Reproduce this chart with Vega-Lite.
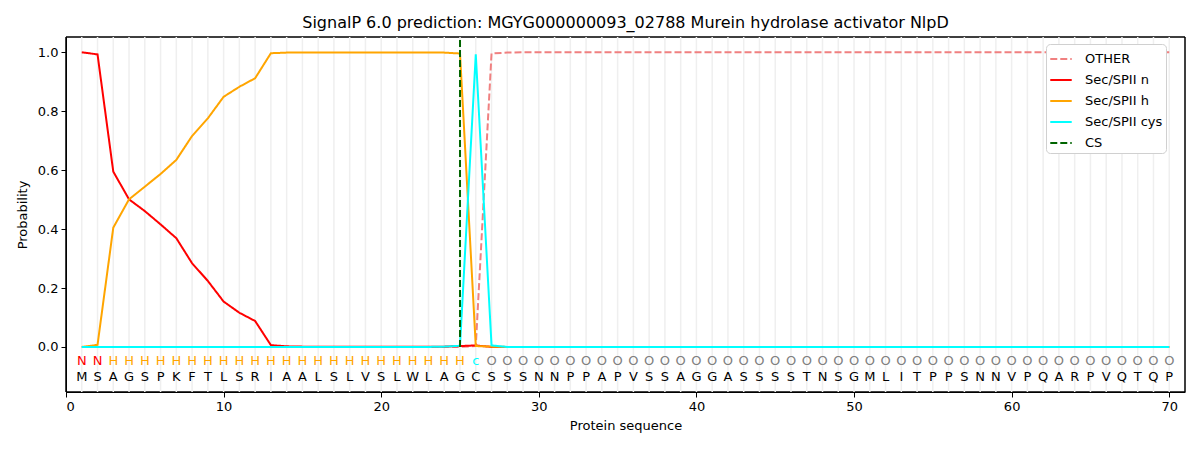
{
  "$schema": "https://vega.github.io/schema/vega-lite/v6.json",
  "width": 1119,
  "height": 355,
  "autosize": "none",
  "padding": {"left": 66, "top": 37, "right": 15, "bottom": 58},
  "background": "white",
  "title": {
    "text": "SignalP 6.0 prediction: MGYG000000093_02788 Murein hydrolase activator NlpD",
    "font": "DejaVu Sans",
    "fontSize": 16,
    "fontWeight": "normal",
    "color": "black",
    "offset": 5
  },
  "config": {
    "view": {"stroke": "#000000", "strokeWidth": 1.5, "strokeDash": [1, 0], "strokeOpacity": 1},
    "font": "DejaVu Sans",
    "axis": {
      "labelFont": "DejaVu Sans",
      "labelFontSize": 13,
      "labelColor": "black",
      "titleFont": "DejaVu Sans",
      "titleFontSize": 13,
      "titleFontWeight": "normal",
      "titleColor": "black",
      "tickColor": "black",
      "domainColor": "black",
      "tickSize": 5,
      "grid": false
    },
    "legend": {
      "labelFont": "DejaVu Sans",
      "labelFontSize": 13,
      "labelColor": "black"
    }
  },
  "datasets": {
    "residues": [
      {"pos": 1, "aa": "M", "lab": "N", "other": 0.0, "n": 1.0, "h": 0.0, "cys": 0.0},
      {"pos": 2, "aa": "S", "lab": "N", "other": 0.0, "n": 0.993, "h": 0.007, "cys": 0.0},
      {"pos": 3, "aa": "A", "lab": "H", "other": 0.0, "n": 0.595, "h": 0.405, "cys": 0.0},
      {"pos": 4, "aa": "G", "lab": "H", "other": 0.0, "n": 0.501, "h": 0.501, "cys": 0.0},
      {"pos": 5, "aa": "S", "lab": "H", "other": 0.0, "n": 0.461, "h": 0.544, "cys": 0.0},
      {"pos": 6, "aa": "P", "lab": "H", "other": 0.0, "n": 0.416, "h": 0.587, "cys": 0.0},
      {"pos": 7, "aa": "K", "lab": "H", "other": 0.0, "n": 0.369, "h": 0.635, "cys": 0.0},
      {"pos": 8, "aa": "F", "lab": "H", "other": 0.0, "n": 0.284, "h": 0.716, "cys": 0.0},
      {"pos": 9, "aa": "T", "lab": "H", "other": 0.0, "n": 0.224, "h": 0.776, "cys": 0.0},
      {"pos": 10, "aa": "L", "lab": "H", "other": 0.0, "n": 0.154, "h": 0.849, "cys": 0.0},
      {"pos": 11, "aa": "S", "lab": "H", "other": 0.0, "n": 0.116, "h": 0.883, "cys": 0.0},
      {"pos": 12, "aa": "R", "lab": "H", "other": 0.0, "n": 0.088, "h": 0.912, "cys": 0.0},
      {"pos": 13, "aa": "I", "lab": "H", "other": 0.0, "n": 0.006, "h": 0.997, "cys": 0.0},
      {"pos": 14, "aa": "A", "lab": "H", "other": 0.0, "n": 0.002, "h": 0.999, "cys": 0.0},
      {"pos": 15, "aa": "A", "lab": "H", "other": 0.0, "n": 0.001, "h": 0.999, "cys": 0.0},
      {"pos": 16, "aa": "L", "lab": "H", "other": 0.0, "n": 0.001, "h": 0.999, "cys": 0.0},
      {"pos": 17, "aa": "S", "lab": "H", "other": 0.0, "n": 0.001, "h": 0.999, "cys": 0.0},
      {"pos": 18, "aa": "L", "lab": "H", "other": 0.0, "n": 0.001, "h": 0.999, "cys": 0.0},
      {"pos": 19, "aa": "V", "lab": "H", "other": 0.0, "n": 0.001, "h": 0.999, "cys": 0.0},
      {"pos": 20, "aa": "S", "lab": "H", "other": 0.0, "n": 0.001, "h": 0.999, "cys": 0.0},
      {"pos": 21, "aa": "L", "lab": "H", "other": 0.0, "n": 0.001, "h": 0.999, "cys": 0.0},
      {"pos": 22, "aa": "W", "lab": "H", "other": 0.0, "n": 0.001, "h": 0.999, "cys": 0.0},
      {"pos": 23, "aa": "L", "lab": "H", "other": 0.0, "n": 0.001, "h": 0.999, "cys": 0.0},
      {"pos": 24, "aa": "A", "lab": "H", "other": 0.0, "n": 0.001, "h": 0.999, "cys": 0.001},
      {"pos": 25, "aa": "G", "lab": "H", "other": 0.0, "n": 0.003, "h": 0.996, "cys": 0.004},
      {"pos": 26, "aa": "C", "lab": "c", "other": 0.003, "n": 0.005, "h": 0.003, "cys": 0.993},
      {"pos": 27, "aa": "S", "lab": "O", "other": 0.996, "n": 0.0, "h": 0.001, "cys": 0.005},
      {"pos": 28, "aa": "S", "lab": "O", "other": 0.999, "n": 0.0, "h": 0.0, "cys": 0.0},
      {"pos": 29, "aa": "S", "lab": "O", "other": 1.0, "n": 0.0, "h": 0.0, "cys": 0.0},
      {"pos": 30, "aa": "N", "lab": "O", "other": 1.0, "n": 0.0, "h": 0.0, "cys": 0.0},
      {"pos": 31, "aa": "N", "lab": "O", "other": 1.0, "n": 0.0, "h": 0.0, "cys": 0.0},
      {"pos": 32, "aa": "P", "lab": "O", "other": 1.0, "n": 0.0, "h": 0.0, "cys": 0.0},
      {"pos": 33, "aa": "P", "lab": "O", "other": 1.0, "n": 0.0, "h": 0.0, "cys": 0.0},
      {"pos": 34, "aa": "A", "lab": "O", "other": 1.0, "n": 0.0, "h": 0.0, "cys": 0.0},
      {"pos": 35, "aa": "P", "lab": "O", "other": 1.0, "n": 0.0, "h": 0.0, "cys": 0.0},
      {"pos": 36, "aa": "V", "lab": "O", "other": 1.0, "n": 0.0, "h": 0.0, "cys": 0.0},
      {"pos": 37, "aa": "S", "lab": "O", "other": 1.0, "n": 0.0, "h": 0.0, "cys": 0.0},
      {"pos": 38, "aa": "S", "lab": "O", "other": 1.0, "n": 0.0, "h": 0.0, "cys": 0.0},
      {"pos": 39, "aa": "A", "lab": "O", "other": 1.0, "n": 0.0, "h": 0.0, "cys": 0.0},
      {"pos": 40, "aa": "G", "lab": "O", "other": 1.0, "n": 0.0, "h": 0.0, "cys": 0.0},
      {"pos": 41, "aa": "G", "lab": "O", "other": 1.0, "n": 0.0, "h": 0.0, "cys": 0.0},
      {"pos": 42, "aa": "A", "lab": "O", "other": 1.0, "n": 0.0, "h": 0.0, "cys": 0.0},
      {"pos": 43, "aa": "S", "lab": "O", "other": 1.0, "n": 0.0, "h": 0.0, "cys": 0.0},
      {"pos": 44, "aa": "S", "lab": "O", "other": 1.0, "n": 0.0, "h": 0.0, "cys": 0.0},
      {"pos": 45, "aa": "S", "lab": "O", "other": 1.0, "n": 0.0, "h": 0.0, "cys": 0.0},
      {"pos": 46, "aa": "S", "lab": "O", "other": 1.0, "n": 0.0, "h": 0.0, "cys": 0.0},
      {"pos": 47, "aa": "T", "lab": "O", "other": 1.0, "n": 0.0, "h": 0.0, "cys": 0.0},
      {"pos": 48, "aa": "N", "lab": "O", "other": 1.0, "n": 0.0, "h": 0.0, "cys": 0.0},
      {"pos": 49, "aa": "S", "lab": "O", "other": 1.0, "n": 0.0, "h": 0.0, "cys": 0.0},
      {"pos": 50, "aa": "G", "lab": "O", "other": 1.0, "n": 0.0, "h": 0.0, "cys": 0.0},
      {"pos": 51, "aa": "M", "lab": "O", "other": 1.0, "n": 0.0, "h": 0.0, "cys": 0.0},
      {"pos": 52, "aa": "L", "lab": "O", "other": 1.0, "n": 0.0, "h": 0.0, "cys": 0.0},
      {"pos": 53, "aa": "I", "lab": "O", "other": 1.0, "n": 0.0, "h": 0.0, "cys": 0.0},
      {"pos": 54, "aa": "T", "lab": "O", "other": 1.0, "n": 0.0, "h": 0.0, "cys": 0.0},
      {"pos": 55, "aa": "P", "lab": "O", "other": 1.0, "n": 0.0, "h": 0.0, "cys": 0.0},
      {"pos": 56, "aa": "P", "lab": "O", "other": 1.0, "n": 0.0, "h": 0.0, "cys": 0.0},
      {"pos": 57, "aa": "S", "lab": "O", "other": 1.0, "n": 0.0, "h": 0.0, "cys": 0.0},
      {"pos": 58, "aa": "N", "lab": "O", "other": 1.0, "n": 0.0, "h": 0.0, "cys": 0.0},
      {"pos": 59, "aa": "N", "lab": "O", "other": 1.0, "n": 0.0, "h": 0.0, "cys": 0.0},
      {"pos": 60, "aa": "V", "lab": "O", "other": 1.0, "n": 0.0, "h": 0.0, "cys": 0.0},
      {"pos": 61, "aa": "P", "lab": "O", "other": 1.0, "n": 0.0, "h": 0.0, "cys": 0.0},
      {"pos": 62, "aa": "Q", "lab": "O", "other": 1.0, "n": 0.0, "h": 0.0, "cys": 0.0},
      {"pos": 63, "aa": "A", "lab": "O", "other": 1.0, "n": 0.0, "h": 0.0, "cys": 0.0},
      {"pos": 64, "aa": "R", "lab": "O", "other": 1.0, "n": 0.0, "h": 0.0, "cys": 0.0},
      {"pos": 65, "aa": "P", "lab": "O", "other": 1.0, "n": 0.0, "h": 0.0, "cys": 0.0},
      {"pos": 66, "aa": "V", "lab": "O", "other": 1.0, "n": 0.0, "h": 0.0, "cys": 0.0},
      {"pos": 67, "aa": "Q", "lab": "O", "other": 1.0, "n": 0.0, "h": 0.0, "cys": 0.0},
      {"pos": 68, "aa": "T", "lab": "O", "other": 1.0, "n": 0.0, "h": 0.0, "cys": 0.0},
      {"pos": 69, "aa": "Q", "lab": "O", "other": 1.0, "n": 0.0, "h": 0.0, "cys": 0.0},
      {"pos": 70, "aa": "P", "lab": "O", "other": 1.0, "n": 0.0, "h": 0.0, "cys": 0.0}
    ],
    "cleavage": [{"series": "cs", "pos": 25}]
  },
  "data": {"name": "residues"},
  "encoding": {
    "x": {
      "field": "pos",
      "type": "quantitative",
      "title": "Protein sequence",
      "scale": {"domain": [0, 71], "nice": false, "zero": false},
      "axis": {"values": [0, 10, 20, 30, 40, 50, 60, 70], "format": "d", "labelPadding": 3, "titlePadding": 6}
    }
  },
  "layer": [
    {
      "mark": {"type": "rule", "color": "#efefef", "strokeWidth": 1.5},
      "encoding": {}
    },
    {
      "layer": [
        {
          "transform": [{"fold": ["other", "n", "h", "cys"], "as": ["series", "p"]}],
          "mark": {"type": "line", "strokeWidth": 2, "clip": true},
          "encoding": {
            "y": {
              "field": "p",
              "type": "quantitative",
              "title": "Probability",
              "scale": {"domain": [-0.153, 1.052], "nice": false, "zero": false},
              "axis": {"values": [0, 0.2, 0.4, 0.6, 0.8, 1.0], "format": ".1f", "labelPadding": 3, "titlePadding": 8}
            },
            "color": {
              "field": "series",
              "type": "nominal",
              "title": null,
              "scale": {
                "domain": ["other", "n", "h", "cys", "cs"],
                "range": ["#f08080", "#ff0000", "#ffa500", "#00ffff", "#006400"]
              },
              "legend": {
                "orient": "none",
                "legendX": 980,
                "legendY": 7,
                "fillColor": "white",
                "strokeColor": "#d0d0d0",
                "cornerRadius": 4,
                "padding": 3,
                "symbolType": "stroke",
                "symbolSize": 460,
                "symbolStrokeWidth": 2,
                "rowPadding": 2,
                "labelOffset": 12,
                "labelLimit": 200,
                "labelExpr": "{'other': 'OTHER', 'n': 'Sec/SPII n', 'h': 'Sec/SPII h', 'cys': 'Sec/SPII cys', 'cs': 'CS'}[datum.label]"
              }
            },
            "strokeDash": {
              "field": "series",
              "type": "nominal",
              "title": null,
              "scale": {
                "domain": ["other", "n", "h", "cys", "cs"],
                "range": [[7, 3], [1, 0], [1, 0], [1, 0], [7, 3]]
              }
            }
          }
        },
        {
          "data": {"name": "cleavage"},
          "mark": {"type": "rule", "strokeWidth": 2, "clip": true},
          "encoding": {
            "y": {"datum": 0},
            "y2": {"datum": 1.1},
            "color": {"field": "series", "type": "nominal"},
            "strokeDash": {"field": "series", "type": "nominal"}
          }
        }
      ]
    },
    {
      "mark": {"type": "text", "fontSize": 13, "font": "DejaVu Sans", "color": "black"},
      "encoding": {
        "y": {"datum": -0.102},
        "text": {"field": "aa"}
      }
    },
    {
      "mark": {"type": "text", "fontSize": 13, "font": "DejaVu Sans"},
      "encoding": {
        "y": {"datum": -0.048},
        "text": {"field": "lab"},
        "color": {
          "field": "lab",
          "type": "nominal",
          "scale": {"domain": ["N", "H", "c", "O"], "range": ["#ff0000", "#ffa500", "#00ffff", "#808080"]},
          "legend": null
        }
      }
    }
  ],
  "resolve": {"scale": {"color": "independent", "strokeDash": "independent"}}
}
